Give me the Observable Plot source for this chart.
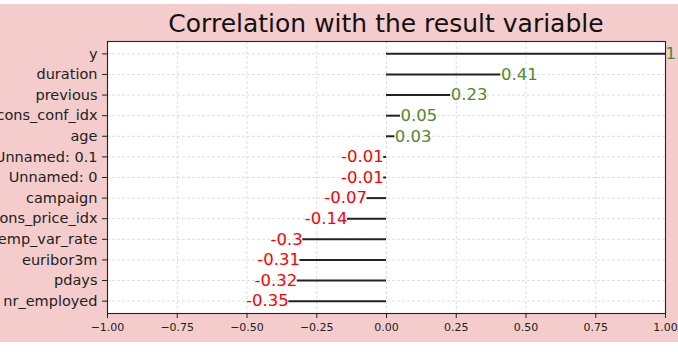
<!DOCTYPE html>
<html>
<head>
<meta charset="utf-8">
<script src="https://cdn.jsdelivr.net/npm/d3@7"></script>
<script src="https://cdn.jsdelivr.net/npm/@observablehq/plot@0.6"></script>
<style>
  html, body { margin: 0; padding: 0; background: white; overflow: hidden; }
  #fig { position: absolute; top: 4px; left: 0; width: 678px; height: 338px; background: #f4cccc; overflow: hidden; }
  #title { position: absolute; left: 107px; width: 558px; top: 6.5px; text-align: center;
           font-family: "DejaVu Sans"; font-size: 25px; line-height: 25px; color: #111; white-space: nowrap; }
  #chart { position: absolute; top: 30px; left: 0; }
</style>
</head>
<body>
<div id="fig">
  <div id="title">Correlation with the result variable</div>
  <div id="chart"></div>
</div>
<script>
const features = ["y", "duration", "previous", "cons_conf_idx", "age", "Unnamed: 0.1", "Unnamed: 0",
                  "campaign", "cons_price_idx", "emp_var_rate", "euribor3m", "pdays", "nr_employed"];
const correlations = [1.0, 0.41, 0.23, 0.05, 0.03, -0.01, -0.01, -0.07, -0.14, -0.3, -0.31, -0.32, -0.35];
const xTicks = [-1.0, -0.75, -0.5, -0.25, 0.0, 0.25, 0.5, 0.75, 1.0];

const data = features.map((f, i) => ({feature: f, value: correlations[i]}));
const fmt = v => Number.isInteger(v) ? v.toFixed(1) : String(v);
const pos = data.filter(d => d.value >= 0);
const neg = data.filter(d => d.value < 0);

const chart = Plot.plot({
  width: 678,
  height: 308,
  marginTop: 7,
  marginBottom: 29,
  marginLeft: 107,
  marginRight: 13,
  style: {background: "transparent", fontFamily: "DejaVu Sans", color: "#222", overflow: "visible"},
  x: {domain: [-1, 1], ticks: xTicks, tickFormat: d3.format(".2f"), label: null},
  y: {type: "point", domain: features, padding: 0.6, round: false, label: null},
  marks: [
    Plot.frame({fill: "white", stroke: null}),
    Plot.gridX(xTicks, {stroke: "#b0b0b0", strokeOpacity: 0.5, strokeDasharray: "3,2", strokeWidth: 0.8}),
    Plot.gridY(features, {stroke: "#b0b0b0", strokeOpacity: 0.5, strokeDasharray: "3,2", strokeWidth: 0.8}),
    Plot.ruleY(data, {y: "feature", x1: 0, x2: "value", stroke: "#222", strokeWidth: 2}),
    Plot.text(pos, {y: "feature", x: "value", text: d => fmt(d.value), textAnchor: "start",
      fill: "#4f8a2b", fontSize: 16.5, lineAnchor: "middle"}),
    Plot.text(neg, {y: "feature", x: "value", text: d => fmt(d.value), textAnchor: "end",
      fill: "#ff0000", fontSize: 16.5, lineAnchor: "middle"}),
    Plot.axisX({ticks: xTicks, tickFormat: d3.format(".2f"), tickSize: 5, tickPadding: 5, fontSize: 11, label: null, stroke: "#222"}),
    Plot.axisY({tickSize: 5, tickPadding: 5, fontSize: 14.5, label: null, stroke: "#222"}),
    Plot.frame({stroke: "#222", strokeWidth: 1.1})
  ]
});
document.getElementById("chart").appendChild(chart);
</script>
</body>
</html>
